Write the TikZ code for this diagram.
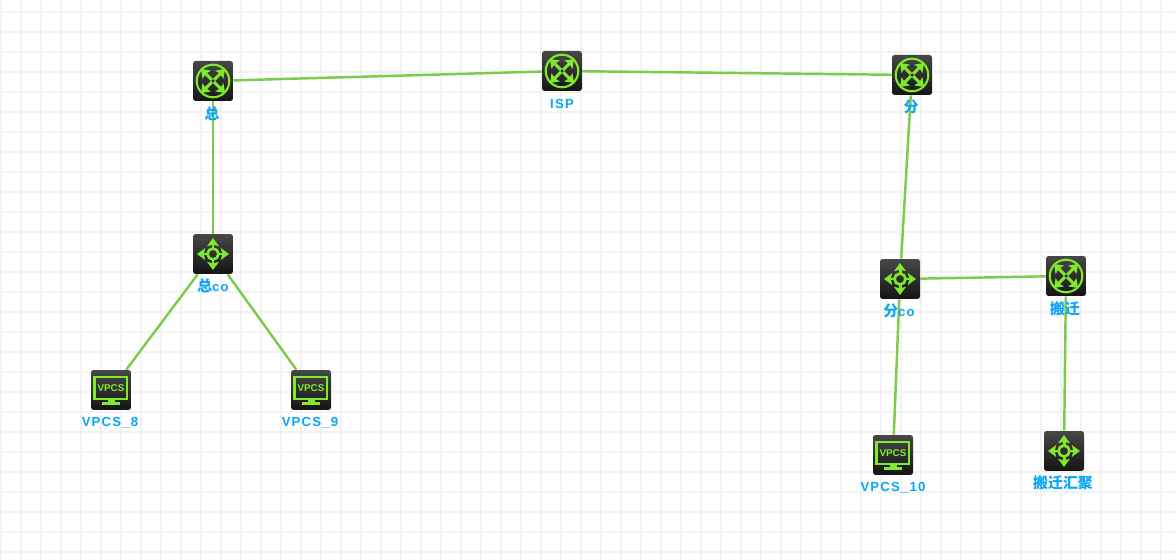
\documentclass[tikz,border=0pt]{standalone}
\usepackage{fontspec}
\usepackage{tikz}
\usetikzlibrary{arrows.meta,backgrounds}
\newfontfamily\lblfont[LetterSpace=9]{Liberation Sans}
\newfontfamily\cjk[Scale=1.13]{Noto Sans CJK SC}
\definecolor{linkgreen}{HTML}{7CCB4B}
\definecolor{iconlime}{HTML}{80EA2A}
\definecolor{lblblue}{HTML}{0AA5F5}
\definecolor{gridgray}{HTML}{F2F2F2}
\tikzset{
  device/.style={minimum size=.8cm, inner sep=0pt, rounded corners=1.5pt, top color=black!72, bottom color=black!92},
  lbl/.style={text=lblblue, font=\lblfont\bfseries\fontsize{7.5}{9}\selectfont, inner sep=0pt},
  link/.style={linkgreen, line width=1.4pt},
  glyph/.style={iconlime, line width=1.2pt},
  arr/.style={iconlime, line width=1.7pt, -{Stealth[length=4.6pt,width=6.6pt,inset=.8pt]}},
  routerglyph/.pic={
    \draw [glyph] (0,0) circle [radius=16.3];
    \draw [arr] (-1,-1) -- (-12,-12);
    \draw [arr] (1,1) -- (12,12);
    \draw [arr] (-1,1) -- (-12,12);
    \draw [arr] (1,-1) -- (12,-12);
  },
  switchglyph/.pic={
    \draw [glyph, line width=1.5pt] (0,0) circle [radius=5.5];
    \draw [arr] (5.5,0) -- (16,0);
    \draw [arr] (-5.5,0) -- (-16,0);
    \draw [arr] (0,5.5) -- (0,16);
    \draw [arr] (0,-5.5) -- (0,-16);
  },
  vpcsglyph/.pic={
    \draw [glyph] (-16.5,-13) rectangle (16,9);
    \fill [iconlime] (-3.5,9) rectangle (3.5,12);
    \fill [iconlime] (-9,12) rectangle (9,14.5);
    \node [iconlime, inner sep=0pt, font=\fontspec{Liberation Sans}\bfseries\fontsize{5.6}{6}\selectfont] (vpcstext) at (0,-2) {VPCS};
  }
}
\begin{document}
\begin{tikzpicture}[x=.02cm, y=-.02cm]
\useasboundingbox (0,0) rectangle (1176,560);

% devices
\node [device] (zong) at (213,81) {};
\node [device] (isp) at (562,71) {};
\node [device] (fen) at (912,75) {};
\node [device] (zongco) at (213,254) {};
\node [device] (fenco) at (900,279) {};
\node [device] (banqian) at (1066,276) {};
\node [device] (huiju) at (1064,451) {};
\node [device] (vpcs8) at (111,390) {};
\node [device] (vpcs9) at (311,390) {};
\node [device] (vpcs10) at (893,455) {};

\pic at (zong) {routerglyph};
\pic at (isp) {routerglyph};
\pic at (fen) {routerglyph};
\pic at (banqian) {routerglyph};
\pic at (zongco) {switchglyph};
\pic at (fenco) {switchglyph};
\pic at (huiju) {switchglyph};
\pic at (vpcs8) {vpcsglyph};
\pic at (vpcs9) {vpcsglyph};
\pic at (vpcs10) {vpcsglyph};

\begin{scope}[on background layer]
% grid
\fill [white] (0,0) rectangle (1176,560);
\foreach \gx in {1,21,...,1161}
  \draw [gridgray, line width=1pt] (\gx,0) -- (\gx,560);
\foreach \gy in {12,32,...,552}
  \draw [gridgray, line width=1pt] (0,\gy) -- (1176,\gy);

% links
\draw [link] (zong) -- (isp);
\draw [link] (isp) -- (fen);
\draw [link] (zong) -- (zongco);
\draw [link] (zongco) -- (vpcs8);
\draw [link] (zongco) -- (vpcs9);
\draw [link] (fen) -- (fenco);
\draw [link] (fenco) -- (banqian);
\draw [link] (fenco) -- (vpcs10);
\draw [link] (banqian) -- (huiju);
\end{scope}

% labels
\node [lbl] (zonglbl) at (212,114) {\cjk 总};
\node [lbl] (isplbl) at (562,104) {ISP};
\node [lbl] (fenlbl) at (911,107) {\cjk 分};
\node [lbl] (zongcolbl) at (213,286) {{\cjk 总}co};
\node [lbl] (fencolbl) at (899,311) {{\cjk 分}co};
\node [lbl] (banqianlbl) at (1065,309) {\cjk 搬迁};
\node [lbl] (huijulbl) at (1063,483) {\cjk 搬迁汇聚};
\node [lbl] (vpcs8lbl) at (110,423) {VPCS\_8};
\node [lbl] (vpcs9lbl) at (310,423) {VPCS\_9};
\node [lbl] (vpcs10lbl) at (893,488) {VPCS\_10};
\end{tikzpicture}
\end{document}
